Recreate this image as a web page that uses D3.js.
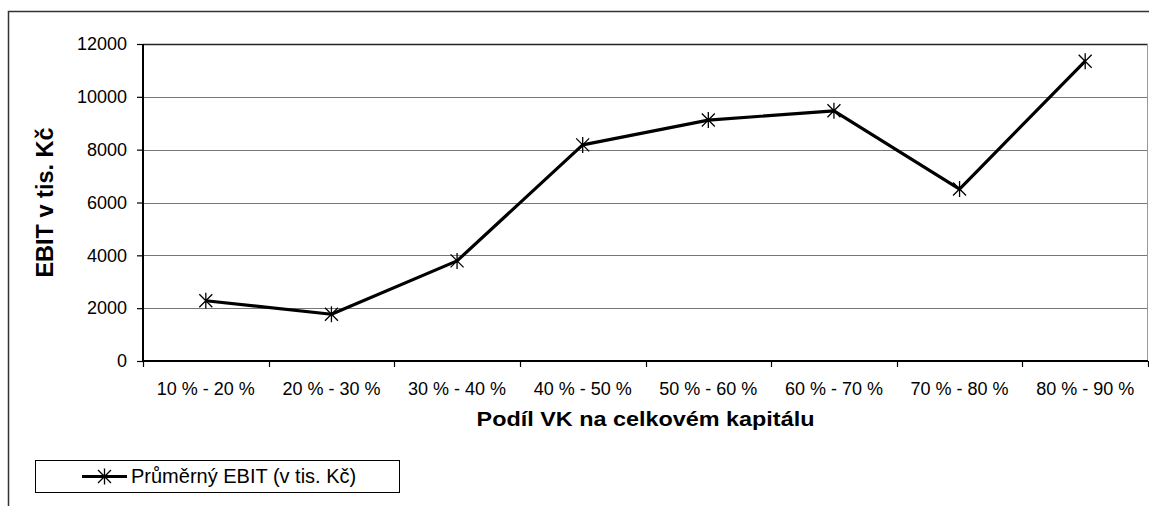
<!DOCTYPE html>
<html>
<head>
<meta charset="utf-8">
<script src="https://cdn.jsdelivr.net/npm/d3@7"></script>
<style>
  html, body { margin: 0; padding: 0; background: #fff; }
  svg { display: block; font-family: "Liberation Sans", Arial, sans-serif; }
</style>
</head>
<body>
<svg id="chart" width="1149" height="506"></svg>
<script>
// Průměrný EBIT podle podílu vlastního kapitálu
const categories = ["10 % - 20 %", "20 % - 30 %", "30 % - 40 %", "40 % - 50 %",
                    "50 % - 60 %", "60 % - 70 %", "70 % - 80 %", "80 % - 90 %"];
const ebitValues = [2280, 1770, 3790, 8180, 9120, 9470, 6510, 11350];
const yTicks = [0, 2000, 4000, 6000, 8000, 10000, 12000];
const seriesName = "Průměrný EBIT (v tis. Kč)";
const xTitle = "Podíl VK na celkovém kapitálu";
const yTitle = "EBIT v tis. Kč";

const svg = d3.select("#chart");
const W = 1149, H = 506;
const plot = { left: 143, top: 44, right: 1148, bottom: 361 };

// outer chart frame
svg.append("rect")
  .attr("x", 8.5).attr("y", 11.5)
  .attr("width", W + 10).attr("height", H + 10)
  .attr("fill", "none").attr("stroke", "#333").attr("stroke-width", 1.5);

const x = d3.scaleBand().domain(categories).range([plot.left, plot.right]).padding(0);
const y = d3.scaleLinear().domain([0, 12000]).range([plot.bottom, plot.top]);

// horizontal gridlines
svg.append("g")
  .selectAll("line")
  .data(yTicks.filter(d => d > 0))
  .join("line")
  .attr("x1", plot.left).attr("x2", plot.right)
  .attr("y1", d => Math.round(y(d)) + 0.5).attr("y2", d => Math.round(y(d)) + 0.5)
  .attr("stroke", d => d === 12000 ? "#222" : "#777")
  .attr("stroke-width", d => d === 12000 ? 1.5 : 1);

// right border of plot area
svg.append("line")
  .attr("x1", plot.right - 0.5).attr("x2", plot.right - 0.5)
  .attr("y1", plot.top).attr("y2", plot.bottom)
  .attr("stroke", "#999").attr("stroke-width", 1);

// y axis
const yAxis = svg.append("g")
  .attr("transform", `translate(${plot.left},0)`)
  .call(d3.axisLeft(y).tickValues(yTicks).tickSize(6).tickPadding(10).tickFormat(d3.format("d")));
yAxis.select(".domain").attr("stroke", "#000").attr("stroke-width", 2)
  .attr("d", `M0,${plot.top}V${plot.bottom}`);
yAxis.selectAll(".tick line").attr("stroke", "#000").attr("stroke-width", 1.2);
yAxis.selectAll(".tick text").attr("font-size", 18).attr("fill", "#000")
  .attr("font-family", "Liberation Sans, Arial, sans-serif");

// x axis: ticks at category boundaries
const xAxisG = svg.append("g").attr("transform", `translate(0,${plot.bottom})`);
xAxisG.append("line")
  .attr("x1", plot.left - 1).attr("x2", plot.right)
  .attr("y1", 0).attr("y2", 0)
  .attr("stroke", "#000").attr("stroke-width", 2);
const boundaries = categories.map(c => x(c)).concat([x(categories[categories.length - 1]) + x.bandwidth()]);
xAxisG.selectAll("line.tk")
  .data(boundaries)
  .join("line")
  .attr("class", "tk")
  .attr("x1", d => Math.round(d) + 0.5).attr("x2", d => Math.round(d) + 0.5)
  .attr("y1", 0).attr("y2", 6)
  .attr("stroke", "#000").attr("stroke-width", 1.2);
xAxisG.selectAll("text")
  .data(categories)
  .join("text")
  .attr("x", d => x(d) + x.bandwidth() / 2)
  .attr("y", 34)
  .attr("text-anchor", "middle")
  .attr("font-size", 18)
  .attr("fill", "#000")
  .text(d => d);

// axis titles (x title drawn slightly widened)
svg.append("text")
  .attr("transform", `translate(${(plot.left + plot.right) / 2},426) scale(1.17,1)`)
  .attr("text-anchor", "middle")
  .attr("font-size", 20)
  .attr("font-weight", "bold")
  .text(xTitle);

svg.append("text")
  .attr("transform", `translate(53,${(plot.top + plot.bottom) / 2}) rotate(-90)`)
  .attr("text-anchor", "middle")
  .attr("font-size", 23.5)
  .attr("font-weight", "bold")
  .text(yTitle);

// series line
const line = d3.line()
  .x((d, i) => x(categories[i]) + x.bandwidth() / 2)
  .y(d => y(d));
svg.append("path")
  .datum(ebitValues)
  .attr("d", line)
  .attr("fill", "none")
  .attr("stroke", "#000")
  .attr("stroke-width", 3.2)
  .attr("stroke-linejoin", "round");

// star marker: X plus vertical bar
function starPath(cx, cy) {
  const a = 6.5, v = 8;
  return `M${cx - a},${cy - a}L${cx + a},${cy + a}M${cx - a},${cy + a}L${cx + a},${cy - a}M${cx},${cy - v}L${cx},${cy + v}`;
}
svg.append("g")
  .selectAll("path")
  .data(ebitValues)
  .join("path")
  .attr("d", (d, i) => starPath(x(categories[i]) + x.bandwidth() / 2, y(d)))
  .attr("stroke", "#000")
  .attr("stroke-width", 1.3)
  .attr("fill", "none");

// legend
const lg = svg.append("g");
lg.append("rect")
  .attr("x", 35.5).attr("y", 460.5).attr("width", 364).attr("height", 32)
  .attr("fill", "#fff").attr("stroke", "#000").attr("stroke-width", 1);
lg.append("line")
  .attr("x1", 82).attr("x2", 127).attr("y1", 476.5).attr("y2", 476.5)
  .attr("stroke", "#000").attr("stroke-width", 3.2);
lg.append("path")
  .attr("d", starPath(104.5, 476.5))
  .attr("stroke", "#000").attr("stroke-width", 1.3).attr("fill", "none");
lg.append("text")
  .attr("x", 131).attr("y", 483)
  .attr("font-size", 20)
  .attr("fill", "#000")
  .text(seriesName);
</script>
</body>
</html>
